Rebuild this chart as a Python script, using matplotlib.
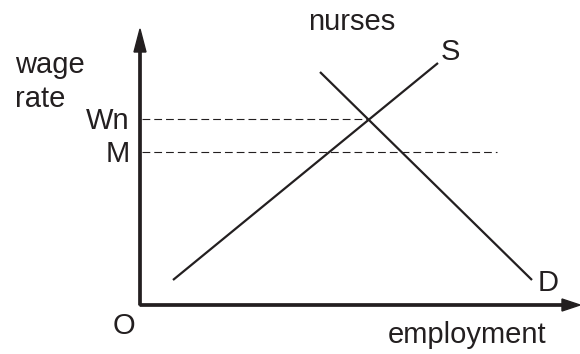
import matplotlib.pyplot as plt

# diagram units: 1 unit = 1 pixel, origin O at the axes corner
supply_q = [33, 298]
supply_w = [25, 242]
demand_q = [180, 392]
demand_w = [233, 25]

wage_labels = ['Wn', 'M']
wage_levels = [186, 153]
wage_dash_end = [229, 357]

x_max = 440
y_max = 276

ink = '#231f20'
plt.rcParams['font.family'] = ['Liberation Sans', 'DejaVu Sans']

fig = plt.figure(figsize=(5.8, 3.54), dpi=100)
ax = fig.add_axes([0, 0, 1, 1])
ax.set_xlim(-140, 440)
ax.set_ylim(-49, 305)
ax.axis('off')

# axes with arrow heads
ax.arrow(0, 0, x_max, 0, width=2.3, head_width=12, head_length=18,
         length_includes_head=True, color=ink, zorder=3)
ax.arrow(0, 0, 0, y_max, width=2.3, head_width=12, head_length=23,
         length_includes_head=True, color=ink, zorder=3)

# supply and demand curves
ax.plot(supply_q, supply_w, color=ink, lw=1.6, solid_capstyle='butt')
ax.plot(demand_q, demand_w, color=ink, lw=1.6, solid_capstyle='butt')

# dashed wage levels
for lab, w, q_end in zip(wage_labels, wage_levels, wage_dash_end):
    ax.plot([2, q_end], [w, w], color=ink, lw=0.8, dashes=(7, 3.6))
    ax.text(-10, w - 10.3, lab, ha='right', va='baseline', fontsize=21, color=ink)

ax.text(-125, 232.3, 'wage', ha='left', va='baseline', fontsize=21, color=ink)
ax.text(-125, 197.7, 'rate', ha='left', va='baseline', fontsize=21, color=ink)
ax.text(212, 275, 'nurses', ha='center', va='baseline', fontsize=21, color=ink)
ax.text(300.7, 245, 'S', ha='left', va='baseline', fontsize=21, color=ink)
ax.text(397.3, 14.3, 'D', ha='left', va='baseline', fontsize=21, color=ink)
ax.text(-16, -29, 'O', ha='center', va='baseline', fontsize=21, color=ink)
ax.text(247.3, -37.7, 'employment', ha='left', va='baseline', fontsize=21, color=ink)

fig.savefig('out.png', dpi=100)
